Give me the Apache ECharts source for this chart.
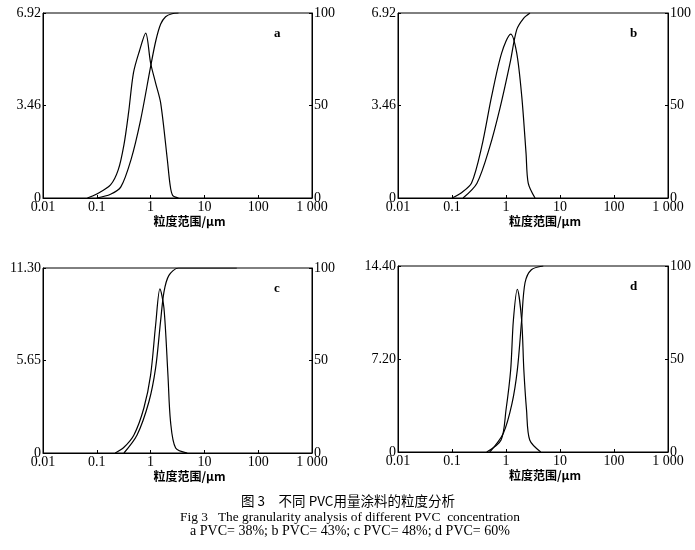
<!DOCTYPE html>
<html>
<head>
<meta charset="utf-8">
<script src="https://cdn.jsdelivr.net/npm/echarts@6/dist/echarts.min.js"></script>
<style>
  html, body { margin: 0; padding: 0; background: #fff; }
  #chart { width: 695px; height: 550px; }
</style>
</head>
<body>
<div id="chart"></div>
<script>
// 粒度分布数据（频率曲线 + 累积曲线）
const xTicks = [0.01, 0.1, 1, 10, 100, 1000];
const panelNames = ['a', 'b', 'c', 'd'];
const leftMax = [6.92, 6.92, 11.30, 14.40];

const aFreqX = [0.067, 0.1, 0.18, 0.25, 0.32, 0.39, 0.48, 0.62, 0.81, 1.0, 1.24, 1.54, 2.05, 2.3, 2.57, 3.3];
const aFreqY = [0, 0.15, 0.49, 1.05, 2.0, 3.2, 4.68, 5.5, 6.17, 5.05, 4.3, 3.55, 1.42, 0.5, 0.1, 0];
const aCumX = [0.1, 0.18, 0.28, 0.43, 0.65, 1.0, 1.25, 1.54, 1.9, 2.5, 3.3];
const aCumY = [0, 2, 6, 20.5, 42, 71, 85, 94, 98, 99.6, 100];

const bFreqX = [0.1, 0.15, 0.23, 0.355, 0.54, 0.83, 1.22, 1.58, 1.96, 2.35, 2.58, 3.45];
const bFreqY = [0, 0.2, 0.56, 1.92, 3.79, 5.42, 6.13, 5.42, 3.79, 1.68, 0.56, 0];
const bCumX = [0.16, 0.29, 0.5, 0.78, 1.19, 1.58, 2.1, 2.78];
const bCumY = [0, 8, 27.6, 49, 73, 91, 97, 100];

const cFreqX = [0.22, 0.32, 0.49, 0.75, 1.0, 1.24, 1.49, 1.77, 2.1, 2.35, 2.92, 4.8];
const cFreqY = [0, 0.35, 1.1, 2.75, 4.76, 7.82, 10.02, 8.86, 4.76, 1.9, 0.3, 0];
const cCumX = [0.32, 0.56, 0.93, 1.24, 1.53, 1.77, 2.19, 3.3, 40];
const cCumY = [0, 9.7, 27.7, 46, 71, 87, 96, 100, 100];

const dFreqX = [0.44, 0.81, 1.0, 1.22, 1.37, 1.62, 1.95, 2.14, 2.4, 2.75, 4.4];
const dFreqY = [0, 0.93, 3.25, 6.35, 10.2, 12.6, 10.2, 6.35, 3.25, 0.93, 0];
const dCumX = [0.5, 0.89, 1.29, 1.62, 1.95, 2.25, 2.95, 4.9];
const dCumY = [0, 10, 26, 44, 71, 91, 98, 100];

const freqX = [aFreqX, bFreqX, cFreqX, dFreqX];
const freqY = [aFreqY, bFreqY, cFreqY, dFreqY];
const cumX = [aCumX, bCumX, cCumX, dCumX];
const cumY = [aCumY, bCumY, cCumY, dCumY];

const grids = [
  { left: 43, top: 13, width: 269, height: 185 },
  { left: 398, top: 13, width: 270, height: 185 },
  { left: 43, top: 268, width: 269, height: 185 },
  { left: 398, top: 266, width: 270, height: 186 }
];

const serif = 'Liberation Serif';
const cjk = 'Noto Sans CJK SC';
const labelStyle = { color: '#000', fontFamily: serif, fontSize: 14 };

function pairs (xs, ys) {
  return xs.map((x, i) => [x, ys[i]]);
}

function xLabel (v) {
  if (v >= 999) return '1 000';
  return String(parseFloat(v.toPrecision(3)));
}

const xAxis = [];
const yAxis = [];
const series = [];
const graphic = [];

grids.forEach((g, i) => {
  xAxis.push({
    type: 'log',
    logBase: 10,
    gridIndex: i,
    min: xTicks[0],
    max: xTicks[xTicks.length - 1],
    axisLine: { lineStyle: { color: '#000', width: 1 } },
    axisTick: { inside: true, length: 3, lineStyle: { color: '#000' } },
    minorTick: { show: false },
    splitLine: { show: false },
    axisLabel: Object.assign({ margin: 2, formatter: xLabel }, labelStyle)
  });
  yAxis.push({
    type: 'value',
    gridIndex: i,
    min: 0,
    max: leftMax[i],
    interval: leftMax[i] / 2,
    axisLine: { show: true, lineStyle: { color: '#000', width: 1 } },
    axisTick: { show: true, inside: true, length: 3, lineStyle: { color: '#000' } },
    splitLine: { show: false },
    axisLabel: Object.assign({
      margin: 2,
      formatter: v => (v === 0 ? '0' : v.toFixed(2))
    }, labelStyle)
  });
  yAxis.push({
    type: 'value',
    gridIndex: i,
    position: 'right',
    min: 0,
    max: 100,
    interval: 50,
    axisLine: { show: true, lineStyle: { color: '#000', width: 1 } },
    axisTick: { show: true, inside: true, length: 3, lineStyle: { color: '#000' } },
    splitLine: { show: false },
    axisLabel: Object.assign({ margin: 2 }, labelStyle)
  });
  const lineStyle = { color: '#000', width: 1.2 };
  series.push({
    type: 'line',
    xAxisIndex: i,
    yAxisIndex: i * 2,
    data: pairs(freqX[i], freqY[i]),
    smooth: 0.3,
    symbol: 'none',
    lineStyle: lineStyle
  });
  series.push({
    type: 'line',
    xAxisIndex: i,
    yAxisIndex: i * 2 + 1,
    data: pairs(cumX[i], cumY[i]),
    smooth: 0.3,
    symbol: 'none',
    lineStyle: lineStyle
  });
  // 面板字母
  graphic.push({
    type: 'text',
    left: g.left + g.width - 38,
    top: g.top + 14,
    style: { text: panelNames[i], fill: '#000', font: 'bold 13px "' + serif + '"' }
  });
  // 横轴名称
  graphic.push({
    type: 'text',
    x: g.left + g.width / 2 + 12,
    y: g.top + g.height + 23,
    style: {
      text: '粒度范围/μm',
      fill: '#000',
      font: 'bold 12px "' + cjk + '"',
      align: 'center',
      verticalAlign: 'middle'
    }
  });
});

graphic.push(
  {
    type: 'text', x: 348, y: 501,
    style: { text: '图 3　不同 PVC用量涂料的粒度分析', fill: '#000', font: '13.5px "' + cjk + '"', align: 'center', verticalAlign: 'middle' }
  },
  {
    type: 'text', x: 350, y: 517,
    style: { text: 'Fig 3   The granularity analysis of different PVC  concentration', fill: '#000', font: '13.4px "' + serif + '"', align: 'center', verticalAlign: 'middle' }
  },
  {
    type: 'text', x: 350, y: 531,
    style: { text: 'a PVC= 38%; b PVC= 43%; c PVC= 48%; d PVC= 60%', fill: '#000', font: '14px "' + serif + '"', align: 'center', verticalAlign: 'middle' }
  }
);

const myChart = echarts.init(document.getElementById('chart'));
myChart.setOption({
  backgroundColor: '#fff',
  animation: false,
  grid: grids.map(g => Object.assign({ show: true, borderColor: '#000', borderWidth: 1, backgroundColor: 'transparent' }, g)),
  xAxis: xAxis,
  yAxis: yAxis,
  series: series,
  graphic: graphic
});
window.addEventListener('resize', function () {
  myChart.resize();
});
</script>
</body>
</html>
